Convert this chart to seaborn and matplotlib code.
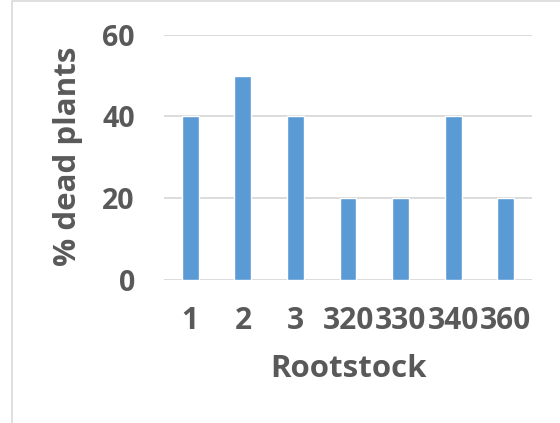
import matplotlib
matplotlib.use("Agg")
import matplotlib.pyplot as plt
import seaborn as sns
import pandas as pd
from matplotlib.patches import Rectangle

# Percentage of dead plants per rootstock
rootstocks = ["1", "2", "3", "320", "330", "340", "360"]
dead_pct = [40, 50, 40, 20, 20, 40, 20]
y_ticks = [0, 20, 40, 60]

BAR = "#5b9bd5"
TEXT = "#595959"
GRID = "#d9d9d9"

sns.set_theme(style="white")
plt.rcParams["font.family"] = ["Open Sans", "DejaVu Sans"]
plt.rcParams["font.weight"] = "bold"

fig = plt.figure(figsize=(5.6, 4.23), dpi=100)
ax = fig.add_axes([0.2929, 0.3388, 0.6571, 0.5792])

df = pd.DataFrame({"Rootstock": rootstocks, "dead": dead_pct})
sns.barplot(data=df, x="Rootstock", y="dead", order=rootstocks,
            color=BAR, saturation=1, width=0.32, ax=ax)

ax.set_xlim(-0.5, len(rootstocks) - 0.5)
ax.set_ylim(0, 60)
ax.set_yticks(y_ticks)
ax.yaxis.grid(True, color=GRID, lw=1.3)
ax.set_axisbelow(True)
for s in ax.spines.values():
    s.set_visible(False)

ax.tick_params(axis="both", length=0, labelcolor=TEXT)
ax.tick_params(axis="y", pad=21, labelsize=20.5)
ax.tick_params(axis="x", pad=19, labelsize=21.5)
for lbl in ax.get_xticklabels() + ax.get_yticklabels():
    lbl.set_fontweight("bold")

ax.set_xlabel("Rootstock", fontsize=22.5, color=TEXT, fontweight="bold")
ax.set_ylabel("% dead plants", fontsize=22.5, color=TEXT, fontweight="bold")
ax.xaxis.set_label_coords(0.5, -0.364)
ax.xaxis.label.set_va("center")
ax.yaxis.set_label_coords(-0.261, 0.505)
ax.yaxis.label.set_va("center")

# light chart-area border
fig.add_artist(Rectangle((11.5 / 560, -0.2), 1.0, 1.2 - 1.5 / 423,
                         transform=fig.transFigure, fill=False,
                         edgecolor=GRID, lw=1.2))

fig.savefig("out.png", dpi=100)
